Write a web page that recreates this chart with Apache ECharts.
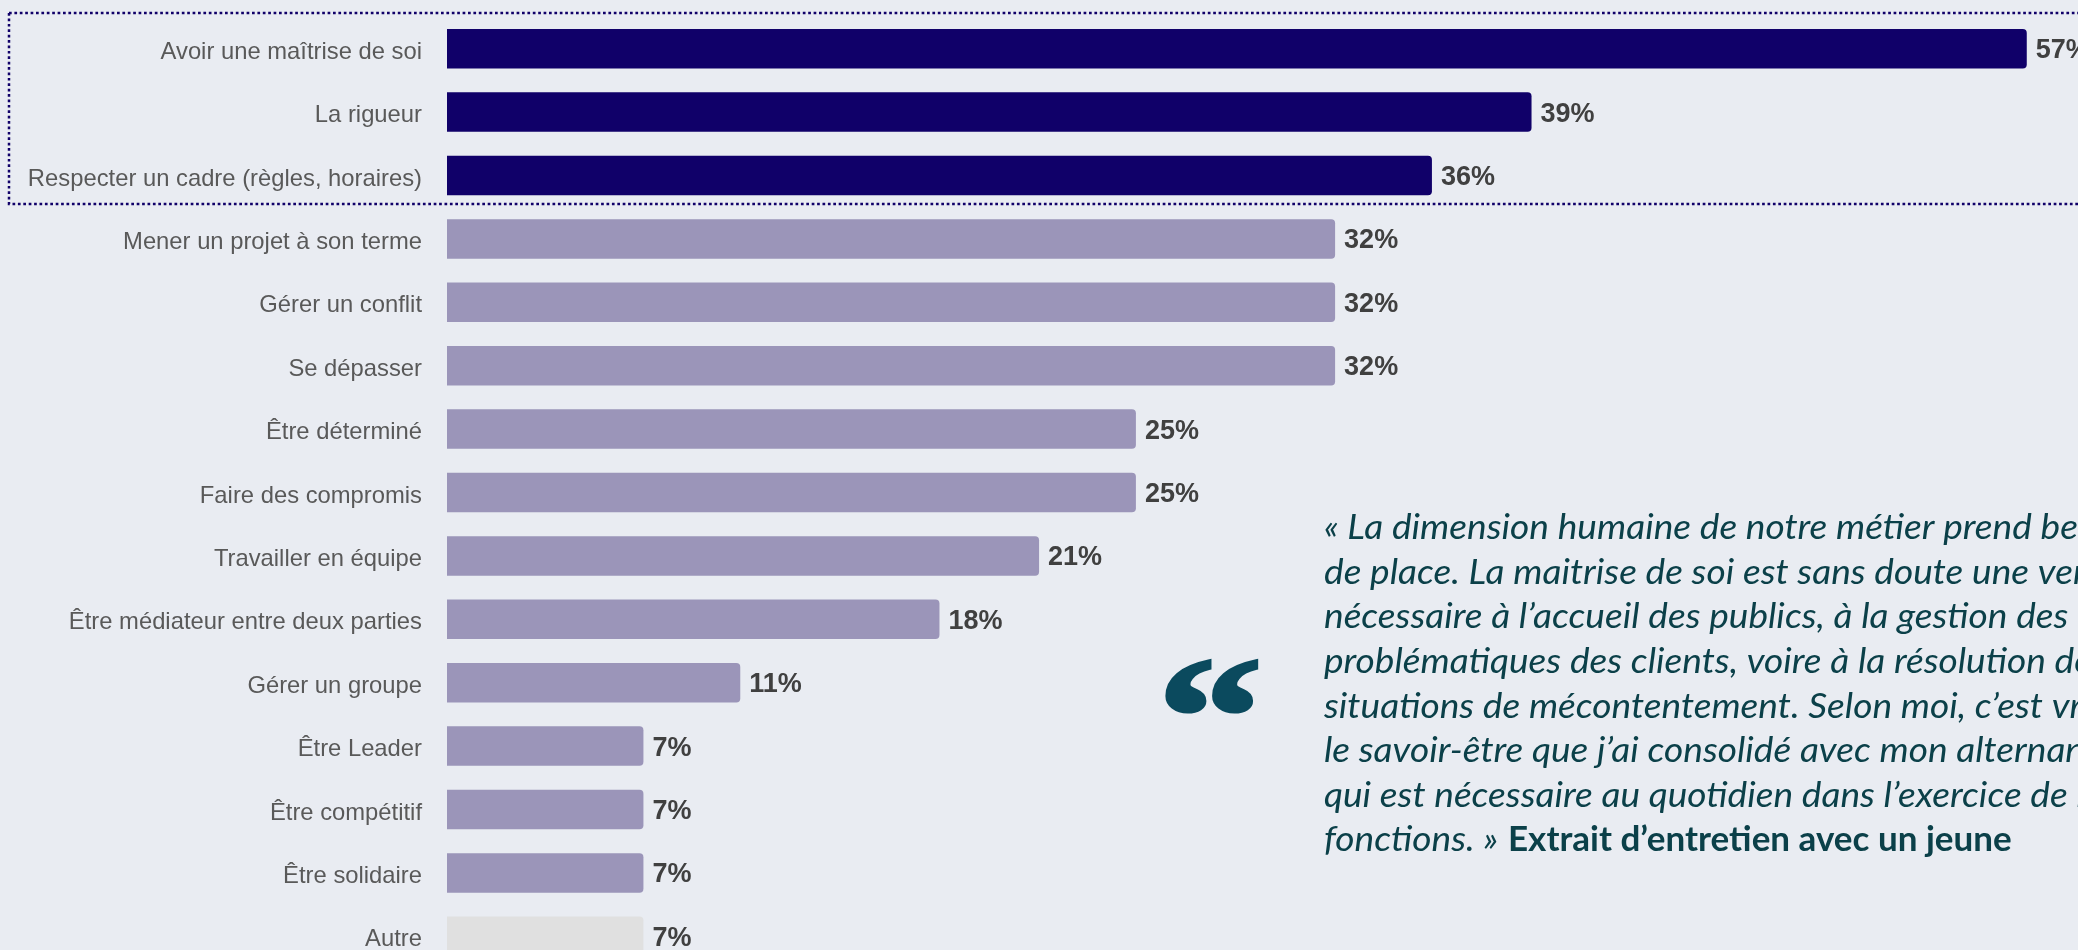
<!DOCTYPE html>
<html>
<head>
<meta charset="utf-8">
<style>
  html, body { margin: 0; padding: 0; background: #e9ecf2; overflow: hidden; }
  #chart { width: 2078px; height: 950px; }
</style>
</head>
<body>
<div id="chart"></div>
<script src="https://cdn.jsdelivr.net/npm/echarts@6/dist/echarts.min.js"></script>
<script>
  const categories = [
    'Avoir une maîtrise de soi', 'La rigueur', 'Respecter un cadre (règles, horaires)',
    'Mener un projet à son terme', 'Gérer un conflit', 'Se dépasser', 'Être déterminé',
    'Faire des compromis', 'Travailler en équipe', 'Être médiateur entre deux parties',
    'Gérer un groupe', 'Être Leader', 'Être compétitif', 'Être solidaire', 'Autre'
  ];
  const percents = [57.1, 39.2, 35.6, 32.1, 32.1, 32.1, 24.9, 24.9, 21.4, 17.8, 10.6, 7.1, 7.1, 7.1, 7.1];
  const barColors = [
    '#100069', '#100069', '#100069', '#9b95b9', '#9b95b9', '#9b95b9', '#9b95b9', '#9b95b9',
    '#9b95b9', '#9b95b9', '#9b95b9', '#9b95b9', '#9b95b9', '#9b95b9', '#e0e0e0'
  ];
  const quoteLines = [
    '« La dimension humaine de notre métier prend beaucoup',
    'de place. La maitrise de soi est sans doute une vertu',
    'nécessaire à l’accueil des publics, à la gestion des',
    'problématiques des clients, voire à la résolution de',
    'situations de mécontentement. Selon moi, c’est vraiment',
    'le savoir-être que j’ai consolidé avec mon alternance et',
    'qui est nécessaire au quotidien dans l’exercice de mes',
    'fonctions. »'
  ];
  const quoteSource = 'Extrait d’entretien avec un jeune';

  const textColor = '#0b4049';
  const chart = echarts.init(document.getElementById('chart'));

  // citation: une ligne de texte par element, police elargie pour coller a la largeur d'origine
  const quoteGraphics = quoteLines.map((line, i) => ({
    type: 'text',
    x: 1324,
    y: 528 + i * 44.6,
    scaleX: 1.06,
    style: { text: line, fill: textColor, font: 'italic 35px Lato', verticalAlign: 'middle' }
  }));

  chart.setOption({
    backgroundColor: '#e9ecf2',
    animation: false,
    grid: { left: 447, top: 17, width: 1660, height: 951, outerBoundsMode: 'none' },
    xAxis: { type: 'value', min: 0, max: 60, show: false },
    yAxis: {
      type: 'category',
      inverse: true,
      data: categories,
      axisLine: { show: false },
      axisTick: { show: false },
      axisLabel: {
        margin: 25,
        fontSize: 23.8,
        color: '#595959',
        fontFamily: 'Liberation Sans',
        // labels un peu plus bas que le centre des barres
        verticalAlign: 'top',
        lineHeight: 7
      }
    },
    series: [{
      type: 'bar',
      barWidth: 39.5,
      data: percents.map((v, i) => ({ value: v, itemStyle: { color: barColors[i] } })),
      itemStyle: { borderRadius: [0, 4, 4, 0] },
      label: {
        show: true,
        position: 'right',
        distance: 9,
        offset: [0, 2],
        formatter: p => Math.round(p.value) + '%',
        fontFamily: 'Liberation Sans',
        fontSize: 27,
        fontWeight: 'bold',
        color: '#404040'
      }
    }],
    graphic: [
      {
        type: 'rect',
        shape: { x: 9, y: 13, width: 2100, height: 191 },
        style: { fill: 'none', stroke: '#100069', lineWidth: 2.5, lineDash: [2.7, 2.7] }
      },
      {
        type: 'text',
        x: 1157,
        y: 645,
        scaleX: 1.25,
        style: {
          text: '“',
          fill: '#0b4a5e',
          stroke: '#0b4a5e',
          lineWidth: 3,
          font: 'bold 170px "Liberation Serif"'
        }
      },
      ...quoteGraphics,
      {
        type: 'text',
        x: 1508,
        y: 528 + 7 * 44.6,
        style: { text: quoteSource, fill: textColor, font: 'bold 35px Lato', verticalAlign: 'middle' }
      }
    ]
  });
</script>
</body>
</html>
